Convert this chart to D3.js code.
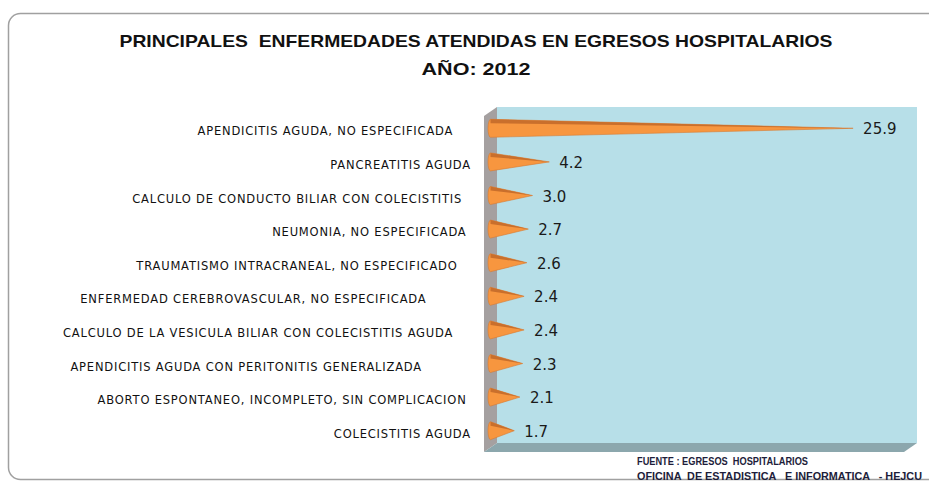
<!DOCTYPE html>
<html lang="es">
<head>
<meta charset="UTF-8">
<script src="https://d3js.org/d3.v7.min.js"></script>
<title>Egresos hospitalarios 2012</title>
<style>
  body { margin: 0; background: #fff; }
  text { white-space: pre; }
</style>
</head>
<body>
<svg id="mainsvg" width="929" height="483"></svg>
<script>
// datos (etiquetas con los espacios finales del original)
const diseases = [
  'APENDICITIS AGUDA, NO ESPECIFICADA    ',
  'PANCREATITIS AGUDA',
  'CALCULO DE CONDUCTO BILIAR CON COLECISTITIS  ',
  'NEUMONIA, NO ESPECIFICADA ',
  'TRAUMATISMO INTRACRANEAL, NO ESPECIFICADO   ',
  'ENFERMEDAD CEREBROVASCULAR, NO ESPECIFICADA          ',
  'CALCULO DE LA VESICULA BILIAR CON COLECISTITIS AGUDA    ',
  'APENDICITIS AGUDA CON PERITONITIS GENERALIZADA           ',
  'ABORTO ESPONTANEO, INCOMPLETO, SIN COMPLICACION ',
  'COLECISTITIS AGUDA'
]
const percents = [25.9, 4.2, 3.0, 2.7, 2.6, 2.4, 2.4, 2.3, 2.1, 1.7]
const titleLines = ['PRINCIPALES  ENFERMEDADES ATENDIDAS EN EGRESOS HOSPITALARIOS', 'AÑO: 2012']
const sourceLines = ['FUENTE : EGRESOS  HOSPITALARIOS', 'OFICINA  DE ESTADISTICA   E INFORMATICA   - HEJCU']

const svg = d3.select('#mainsvg')

// marco redondeado
svg.append('rect')
  .attr('x', 8.5).attr('y', 13.5).attr('width', 960).attr('height', 466)
  .attr('rx', 12)
  .attr('fill', 'none').attr('stroke', '#a0a0a0').attr('stroke-width', 1.5)

// titulo
const titleWidths = [713, 109]
svg.selectAll('text.title')
  .data(titleLines)
  .join('text')
  .attr('class', 'title')
  .attr('x', 476)
  .attr('y', (d, i) => 47 + i * 28)
  .attr('text-anchor', 'middle')
  .attr('font-family', 'Liberation Sans Narrow, Liberation Sans, sans-serif')
  .attr('font-weight', 'bold')
  .attr('font-size', 17)
  .attr('textLength', (d, i) => titleWidths[i])
  .attr('lengthAdjust', 'spacingAndGlyphs')
  .attr('fill', '#111')
  .text(d => d)

// escalas (plano frontal) y profundidad 3D
const dx = 13, dy = -9
const xScale = d3.scaleLinear().domain([0, 30]).range([484, 904])
const yScale = d3.scaleBand().domain(diseases).range([116, 452])

const x0 = xScale(0), x1 = xScale(30)
const yTop = yScale.range()[0], yBot = yScale.range()[1]

// pared del fondo
svg.append('polygon')
  .attr('points', [[x0 + dx, yTop + dy], [x1 + dx, yTop + dy], [x1 + dx, yBot + dy], [x0 + dx, yBot + dy]].join(' '))
  .attr('fill', '#b7dfe8')
// pared lateral
svg.append('polygon')
  .attr('points', [[x0, yTop], [x0 + dx, yTop + dy], [x0 + dx, yBot + dy], [x0, yBot]].join(' '))
  .attr('fill', '#a5a0a0')
// piso
svg.append('polygon')
  .attr('points', [[x0, yBot], [x0 + dx, yBot + dy], [x1 + dx, yBot + dy], [x1, yBot]].join(' '))
  .attr('fill', '#8ca7ad')

// conos
const half = 9
const rows = diseases.map((d, i) => ({
  label: d,
  value: percents[i],
  cx: x0 + dx / 2,
  cy: yScale(d) + yScale.bandwidth() / 2 + dy / 2,
  tip: xScale(percents[i]) + dx / 2
}))

const cones = svg.append('g').selectAll('g').data(rows).join('g')
cones.append('path')
  .attr('d', r => `M${r.cx},${r.cy - half} L${r.tip},${r.cy} L${r.cx},${r.cy + half} A2.5,${half} 0 0 1 ${r.cx},${r.cy - half} Z`)
  .attr('fill', '#f7963f')
  .attr('stroke', '#d97a30').attr('stroke-width', 0.6)
cones.append('path')
  .attr('d', r => `M${r.cx},${r.cy - half} L${r.tip},${r.cy} L${r.cx},${r.cy - half + 4} Z`)
  .attr('fill', '#c96f2c')

// valores
cones.append('text')
  .attr('x', r => r.tip + 10)
  .attr('y', r => r.cy + 1)
  .attr('dominant-baseline', 'central')
  .attr('font-family', 'DejaVu Sans, Verdana, sans-serif')
  .attr('font-size', 15)
  .attr('fill', '#1a1a1a')
  .text(r => r.value.toFixed(1))

// etiquetas de categorias
svg.append('g').selectAll('text').data(rows).join('text')
  .attr('x', 471)
  .attr('y', r => yScale(r.label) + yScale.bandwidth() / 2 - 1.5)
  .attr('text-anchor', 'end')
  .attr('dominant-baseline', 'central')
  .attr('font-family', 'DejaVu Sans, Verdana, sans-serif')
  .attr('font-size', 11.5)
  .attr('letter-spacing', 0.8)
  .attr('fill', '#111')
  .text(r => r.label)

// fuente
const sourceWidths = [171, 285]
svg.selectAll('text.source')
  .data(sourceLines)
  .join('text')
  .attr('class', 'source')
  .attr('x', 637)
  .attr('y', (d, i) => 465 + i * 14.5)
  .attr('font-family', 'Liberation Sans Narrow, Liberation Sans, sans-serif')
  .attr('font-weight', 'bold')
  .attr('font-size', 10)
  .attr('textLength', (d, i) => sourceWidths[i])
  .attr('lengthAdjust', 'spacingAndGlyphs')
  .attr('fill', '#1d1d3a')
  .text(d => d)
</script>
</body>
</html>
